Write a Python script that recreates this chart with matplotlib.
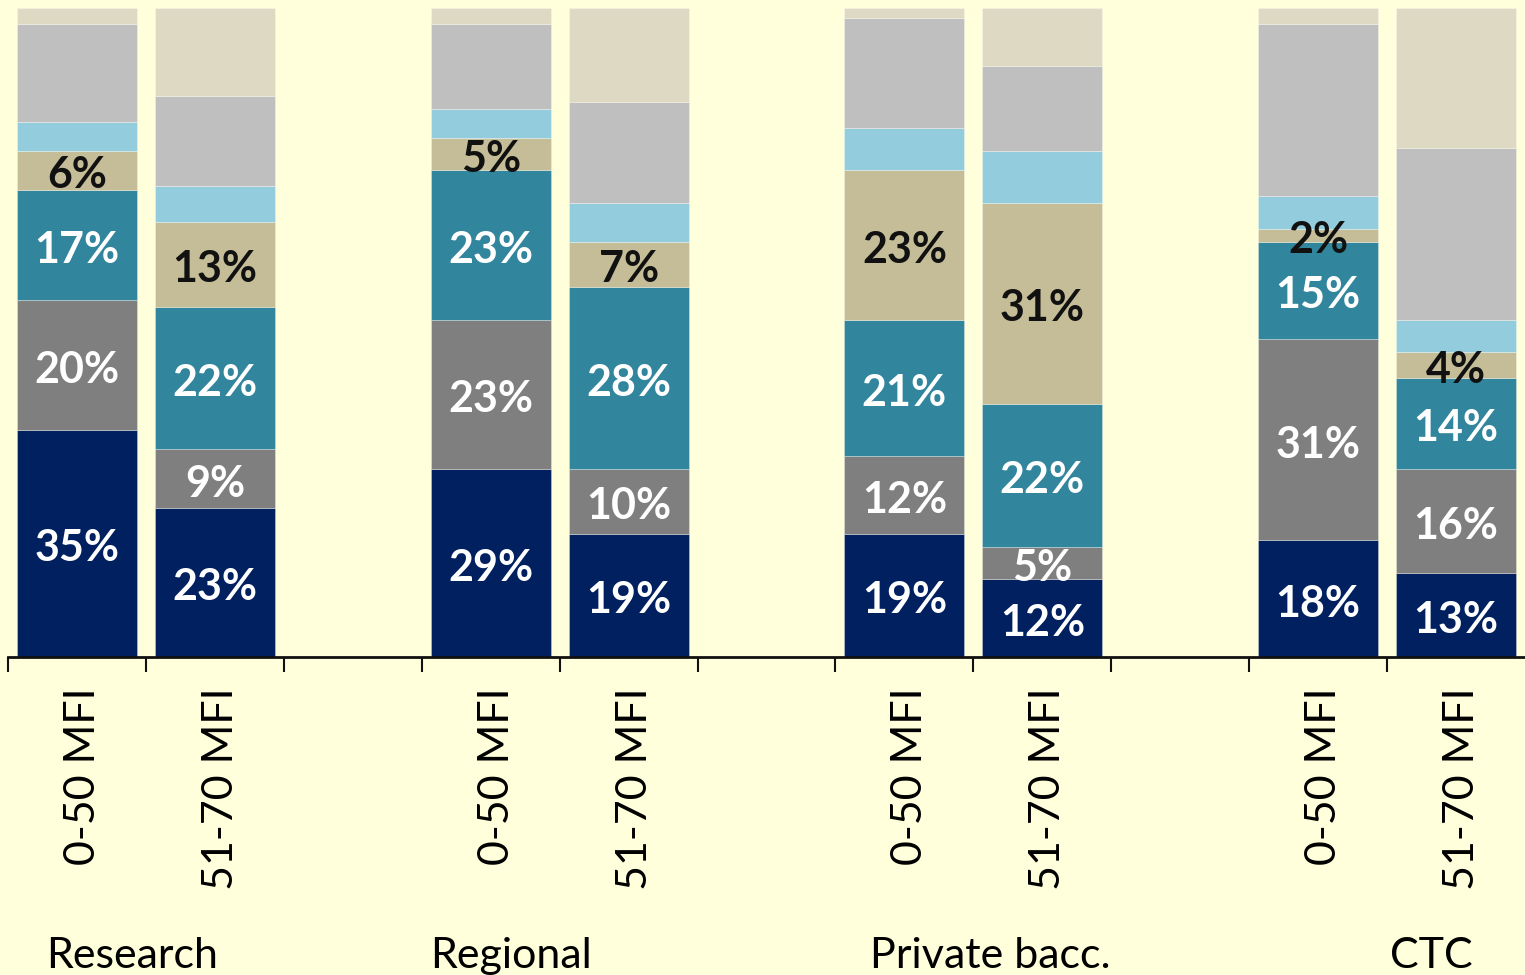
import numpy as np
import matplotlib.pyplot as plt
import matplotlib.transforms as mtransforms

# DATA (share of each segment per bar, bottom to top)
groups = ['Research', 'Regional', 'Private bacc.', 'CTC']
bar_labels = ['0-50 MFI', '51-70 MFI'] * 4
seg1 = [35, 23, 29, 19, 19, 12, 18, 13]      # navy
seg2 = [20, 9, 23, 10, 12, 5, 31, 16]        # dark gray
seg3 = [17, 22, 23, 28, 21, 22, 15, 14]      # teal
seg4 = [6, 13, 5, 7, 23, 31, 2, 4]           # tan
seg5 = [4.5, 5.5, 4.5, 6, 6.5, 8, 5, 5]      # light blue
seg6 = [15, 14, 13, 15.5, 17, 13, 26.5, 26.5]  # light gray
seg7 = [2.5, 13.5, 2.5, 14.5, 1.5, 9, 2.5, 21.5]  # beige

segments = [seg1, seg2, seg3, seg4, seg5, seg6, seg7]
colors = ['#002060', '#7f7f7f', '#31859c', '#c4bd97', '#93cddd', '#bfbfbf', '#ddd9c3']
labeled = [0, 1, 2, 3]
label_colors = ['white', 'white', 'white', '#111111']

bg = '#ffffdb'
plt.rcParams['font.family'] = ['Lato', 'DejaVu Sans']

# bar positions: two bars per group, one empty slot between groups
x = np.array([0, 1, 3, 4, 6, 7, 9, 10])

fig = plt.figure(figsize=(15.25, 9.75), dpi=100, facecolor=bg)
ax = fig.add_axes([8/1525, 1-657/975, 1-8/1525, (657-8)/975])
ax.set_facecolor(bg)

# nudge value labels a few pixels down
down = ax.transData + mtransforms.ScaledTranslation(0, -5/100, fig.dpi_scale_trans)

bottom = np.zeros(len(x))
for i, (vals, c) in enumerate(zip(segments, colors)):
    vals = np.array(vals, dtype=float)
    ax.bar(x, vals, width=0.87, bottom=bottom, color=c,
           edgecolor=(1, 1, 1, 0.35), linewidth=0.6)
    if i in labeled:
        for xi, b, v in zip(x, bottom, vals):
            ax.text(xi, b + v/2, '%d%%' % v, ha='center', va='center', transform=down,
                    fontsize=31, fontweight='bold', color=label_colors[i])
    bottom += vals

ax.set_xlim(-0.5, 10.5)
ax.set_ylim(0, 100)
ax.set_yticks([])
for s in ['left', 'right', 'top']:
    ax.spines[s].set_visible(False)
ax.spines['bottom'].set_linewidth(2)
ax.spines['bottom'].set_color('#111111')

# boundary ticks, labels at bar centres
ax.set_xticks(np.arange(-0.5, 10.5, 1.0))
ax.set_xticklabels([])
ax.tick_params(axis='x', which='major', length=11, width=1.5, color='#111111', direction='out')
ax.set_xticks(x, minor=True)
ax.set_xticklabels(bar_labels, minor=True, rotation=90, fontsize=31, va='top')
ax.tick_params(axis='x', which='minor', length=0, pad=22)
shift = mtransforms.ScaledTranslation(6/100, 0, fig.dpi_scale_trans)
for lab in ax.get_xticklabels(minor=True):
    lab.set_transform(lab.get_transform() + shift)

# group names under the bars
trans = mtransforms.blended_transform_factory(ax.transData, fig.transFigure)
group_x = [-0.22, 2.56, 5.75, 9.52]
for gx, g in zip(group_x, groups):
    ax.text(gx, 7/975, g, transform=trans, ha='left', va='baseline', fontsize=31, clip_on=False)

plt.savefig('out.png', dpi=100, facecolor=bg)
plt.close()
